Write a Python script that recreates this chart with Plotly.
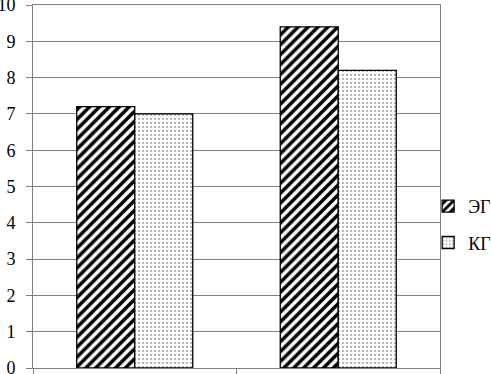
import plotly.graph_objects as go

categories = ["Группа 1", "Группа 2"]
series_names = ["ЭГ", "КГ"]
eg_values = [7.2, 9.4]
kg_values = [7.0, 8.2]
y_ticks = list(range(0, 11))

FONT = "Liberation Serif"

fig = go.Figure()
fig.add_trace(go.Bar(
    x=categories, y=eg_values, name=series_names[0], legendgroup="a",
    marker=dict(color="white", line=dict(color="black", width=1.3),
                pattern=dict(shape="/", fgcolor="black", bgcolor="white", fgopacity=1,
                             size=7, solidity=0.5)),
))
fig.add_trace(go.Bar(
    x=categories, y=kg_values, name=series_names[1], legendgroup="b",
    marker=dict(color="white", line=dict(color="black", width=1.3),
                pattern=dict(shape=".", fgcolor="#444444", bgcolor="white", fgopacity=1,
                             size=4, solidity=0.1)),
))

fig.update_layout(
    width=491, height=374,
    margin=dict(l=33, r=51, t=5, b=6, autoexpand=False),
    paper_bgcolor="white", plot_bgcolor="white",
    barmode="group", bargap=0.43, bargroupgap=0,
    font=dict(family=FONT, size=18, color="black"),
    showlegend=True,
    legend=dict(xref="container", yref="container", x=0.872, y=0.40,
                xanchor="left", yanchor="middle",
                font=dict(family=FONT, size=18), tracegroupgap=10, itemwidth=30,
                bgcolor="rgba(0,0,0,0)"),
    xaxis=dict(showticklabels=False, tickson="boundaries", ticks="outside", ticklen=6,
               tickcolor="#808080", showline=True, linecolor="#808080", linewidth=1,
               mirror=True, showgrid=False, automargin=False),
    yaxis=dict(range=[0, 10], tickvals=y_ticks, ticks="outside", ticklen=6,
               tickcolor="#808080", showline=True, linecolor="#808080", linewidth=1,
               mirror=True, showgrid=True, gridcolor="#808080", gridwidth=1,
               zeroline=False, ticklabelstandoff=7, automargin=False,
               ticklabeloverflow="allow",
               tickfont=dict(family=FONT, size=18)),
)

fig.write_html("out.html", config={"displayModeBar": False},
               post_script="document.body.style.margin='0';document.body.style.padding='0';")
